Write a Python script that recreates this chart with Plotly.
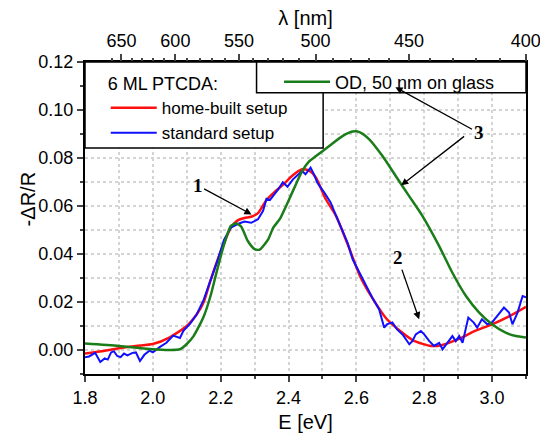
import plotly.graph_objects as go

# ---- data ----
E_red = [1.80, 1.85, 1.90, 1.95, 2.00, 2.05, 2.10, 2.13, 2.15, 2.17, 2.20, 2.23, 2.25, 2.27,
         2.29, 2.31, 2.335, 2.36, 2.385, 2.41, 2.44, 2.46, 2.48, 2.51, 2.54, 2.58, 2.61, 2.65,
         2.69, 2.73, 2.77, 2.82, 2.85, 2.90, 2.95, 3.00, 3.05, 3.10]
y_red = [-0.0015, -0.0005, 0.0007, 0.0017, 0.0025, 0.0053, 0.010, 0.015, 0.020, 0.029, 0.041,
         0.051, 0.054, 0.055, 0.0555, 0.057, 0.0625, 0.066, 0.069, 0.0725, 0.0753, 0.0748,
         0.072, 0.0628, 0.0559, 0.042, 0.031, 0.021, 0.0128, 0.0078, 0.0038, 0.0017, 0.002,
         0.0045, 0.008, 0.0107, 0.014, 0.018]

E_blue = [1.800, 1.812, 1.830, 1.845, 1.858, 1.867, 1.877, 1.885, 1.895, 1.905, 1.915, 1.925,
          1.940, 1.950, 1.962, 1.975, 1.990, 2.000, 2.020, 2.040, 2.060, 2.080, 2.090, 2.110,
          2.130, 2.150, 2.170, 2.190, 2.210, 2.230, 2.250, 2.270, 2.290, 2.310, 2.325, 2.335,
          2.345, 2.354, 2.370, 2.383, 2.397, 2.413, 2.430, 2.440, 2.450, 2.465, 2.475, 2.485,
          2.505, 2.524, 2.540, 2.560, 2.574, 2.589, 2.609, 2.628, 2.647, 2.667, 2.682, 2.690,
          2.706, 2.720, 2.736, 2.756, 2.765, 2.775, 2.790, 2.800, 2.815, 2.829, 2.844, 2.854,
          2.868, 2.883, 2.893, 2.903, 2.913, 2.930, 2.946, 2.956, 2.970, 2.986, 3.000, 3.015,
          3.035, 3.050, 3.060, 3.075, 3.090, 3.100]
y_blue = [-0.0030, -0.0027, -0.0012, -0.0050, -0.0035, -0.0040, -0.0010, -0.0005, -0.0025,
          -0.0030, -0.0015, -0.0022, -0.0012, -0.0010, -0.0046, -0.0020, -0.0003, -0.0010,
          0.0012, 0.0030, 0.0060, 0.0050, 0.0080, 0.0110, 0.0150, 0.0210, 0.0290, 0.0370,
          0.0460, 0.0510, 0.0525, 0.0535, 0.0530, 0.0545, 0.0580, 0.0630, 0.0625, 0.0640,
          0.0670, 0.0699, 0.0680, 0.0711, 0.0732, 0.0746, 0.0732, 0.0760, 0.0732, 0.0697,
          0.0657, 0.0615, 0.0560, 0.0490, 0.0447, 0.0378, 0.0322, 0.0267, 0.0218, 0.0170,
          0.0093, 0.0107, 0.0115, 0.0086, 0.0065, 0.0024, 0.0037, 0.0065, 0.0079, 0.0065,
          0.0037, 0.0017, 0.0030, 0.0003, 0.0030, 0.0058, 0.0037, 0.0058, 0.0030, 0.0135,
          0.0114, 0.0093, 0.0128, 0.0107, 0.0115, 0.0142, 0.0177, 0.0156, 0.0107, 0.0156,
          0.0225, 0.0220]

E_green = [1.80, 1.90, 2.00, 2.05, 2.08, 2.10, 2.12, 2.15, 2.17, 2.19, 2.21, 2.23, 2.245, 2.26,
           2.28, 2.30, 2.315, 2.34, 2.355, 2.374, 2.413, 2.44, 2.46, 2.481, 2.52, 2.56, 2.589,
           2.609, 2.638, 2.677, 2.716, 2.755, 2.795, 2.844, 2.883, 2.923, 2.962, 3.00, 3.04,
           3.07, 3.10]
y_green = [0.0027, 0.0017, 0.0003, 0.0000, 0.0003, 0.0025, 0.0058, 0.0140, 0.0225, 0.0336,
           0.0440, 0.0517, 0.0527, 0.0515, 0.0454, 0.0420, 0.0418, 0.0461, 0.0510, 0.0545,
           0.0663, 0.0745, 0.0785, 0.0808, 0.0850, 0.0892, 0.0910, 0.0908, 0.0878, 0.0808,
           0.0725, 0.0642, 0.0558, 0.0433, 0.0322, 0.0225, 0.0156, 0.0107, 0.0072, 0.0058,
           0.0052]

lambda_major = [650, 600, 550, 500, 450, 400]
lambda_minor = list(range(660, 399, -10))
HC = 1239.84  # eV*nm

FONT = "Arial, Liberation Sans, sans-serif"
SERIF = "Times New Roman, Liberation Serif, serif"

fig = go.Figure()
fig.add_trace(go.Scatter(x=E_red, y=y_red, mode="lines", name="home-built setup",
                         line=dict(color="#ff1010", width=2.5, shape="spline", smoothing=0.6),
                         legend="legend"))
fig.add_trace(go.Scatter(x=E_blue, y=y_blue, mode="lines", name="standard setup",
                         line=dict(color="#1010ff", width=2), legend="legend"))
fig.add_trace(go.Scatter(x=E_green, y=y_green, mode="lines", name="OD, 50 nm on glass",
                         line=dict(color="#1a7d1a", width=2.5, shape="spline", smoothing=0.6),
                         legend="legend2"))
# carriers for the top (wavelength) axes
fig.add_trace(go.Scatter(x=[None], y=[None], xaxis="x2", showlegend=False, hoverinfo="skip"))
fig.add_trace(go.Scatter(x=[None], y=[None], xaxis="x3", showlegend=False, hoverinfo="skip"))

grid = dict(showgrid=True, gridcolor="#d4d4d4", griddash="dot", gridwidth=1.5)

fig.update_layout(
    width=540, height=436,
    margin=dict(l=85, r=14, t=62, b=62, autoexpand=False),
    paper_bgcolor="white", plot_bgcolor="white",
    font=dict(family=FONT, size=18, color="black"),
    xaxis=dict(range=[1.8, 3.1], dtick=0.2, tick0=1.8, tickformat=".1f", automargin=False,
               ticks="outside", ticklen=6, tickwidth=1.5, showline=True, linewidth=2,
               linecolor="black", zeroline=False,
               minor=dict(dtick=0.1, ticklen=3, tickwidth=1.5, ticks="outside",
                          **grid),
               title=dict(text="E [eV]", font=dict(size=20), standoff=8),
               **grid),
    yaxis=dict(range=[-0.01, 0.12], dtick=0.02, tick0=0, tickformat=".2f", automargin=False,
               ticks="outside", ticklen=6, tickwidth=1.5, showline=True, linewidth=2,
               linecolor="black", mirror=True, zeroline=False,
               minor=dict(dtick=0.01, ticklen=3, tickwidth=1.5, ticks="outside",
                          **grid),
               **grid),
    xaxis2=dict(overlaying="x", side="top", range=[1.8, 3.1], automargin=False,
                tickvals=[HC / l for l in lambda_major],
                ticktext=[str(l) for l in lambda_major], ticklabeloverflow="allow",
                ticks="outside", ticklen=6, tickwidth=1.5, showline=True, linewidth=2,
                linecolor="black", showgrid=False, zeroline=False,
                title=dict(text="λ [nm]", font=dict(size=20), standoff=0)),
    xaxis3=dict(overlaying="x", side="top", range=[1.8, 3.1], automargin=False,
                tickvals=[HC / l for l in lambda_minor],
                showticklabels=False, ticks="outside", ticklen=3, tickwidth=1.5,
                showline=False, showgrid=False, zeroline=False),
    legend=dict(title=dict(text="6 ML PTCDA:", font=dict(size=18)),
                font=dict(size=17), x=0.047, y=0.985, xanchor="left", yanchor="top",
                bgcolor="rgba(0,0,0,0)", borderwidth=0, tracegroupgap=0, itemwidth=46),
    legend2=dict(font=dict(size=18), x=0.44, y=0.995, xanchor="left", yanchor="top",
                 bgcolor="rgba(0,0,0,0)", borderwidth=0, itemwidth=46),
    showlegend=True,
    shapes=[
        dict(type="rect", xref="paper", yref="paper", x0=0.0, x1=0.54, y0=0.724, y1=1.0,
             line=dict(color="black", width=1.5), fillcolor="white", layer="above"),
        dict(type="rect", xref="paper", yref="paper", x0=0.389, x1=1.0, y0=0.9016, y1=1.0,
             line=dict(color="black", width=1.5), fillcolor="white", layer="above"),
    ],
)

# y-axis title
fig.add_annotation(text="-ΔR/R", textangle=-90, xref="paper", yref="paper",
                   x=-0.129, y=0.56, xanchor="center", yanchor="middle", showarrow=False,
                   font=dict(size=20))

arrow = dict(showarrow=True, arrowhead=2, arrowsize=1.1, arrowwidth=1.3, arrowcolor="black",
             axref="x", ayref="y", xref="x", yref="y",
             font=dict(family=SERIF, size=19, color="black"))
fig.add_annotation(x=2.291, y=0.0565, ax=2.132, ay=0.0686, text="<b>1</b>", **arrow)
fig.add_annotation(x=2.785, y=0.0128, ax=2.722, ay=0.0385, text="<b>2</b>", **arrow)
fig.add_annotation(x=2.715, y=0.1095, ax=2.960, ay=0.0905, text="<b>3</b>", **arrow)
fig.add_annotation(x=2.732, y=0.0686, ax=2.922, ay=0.0895, text="", **arrow)

fig.write_html("out.html")
